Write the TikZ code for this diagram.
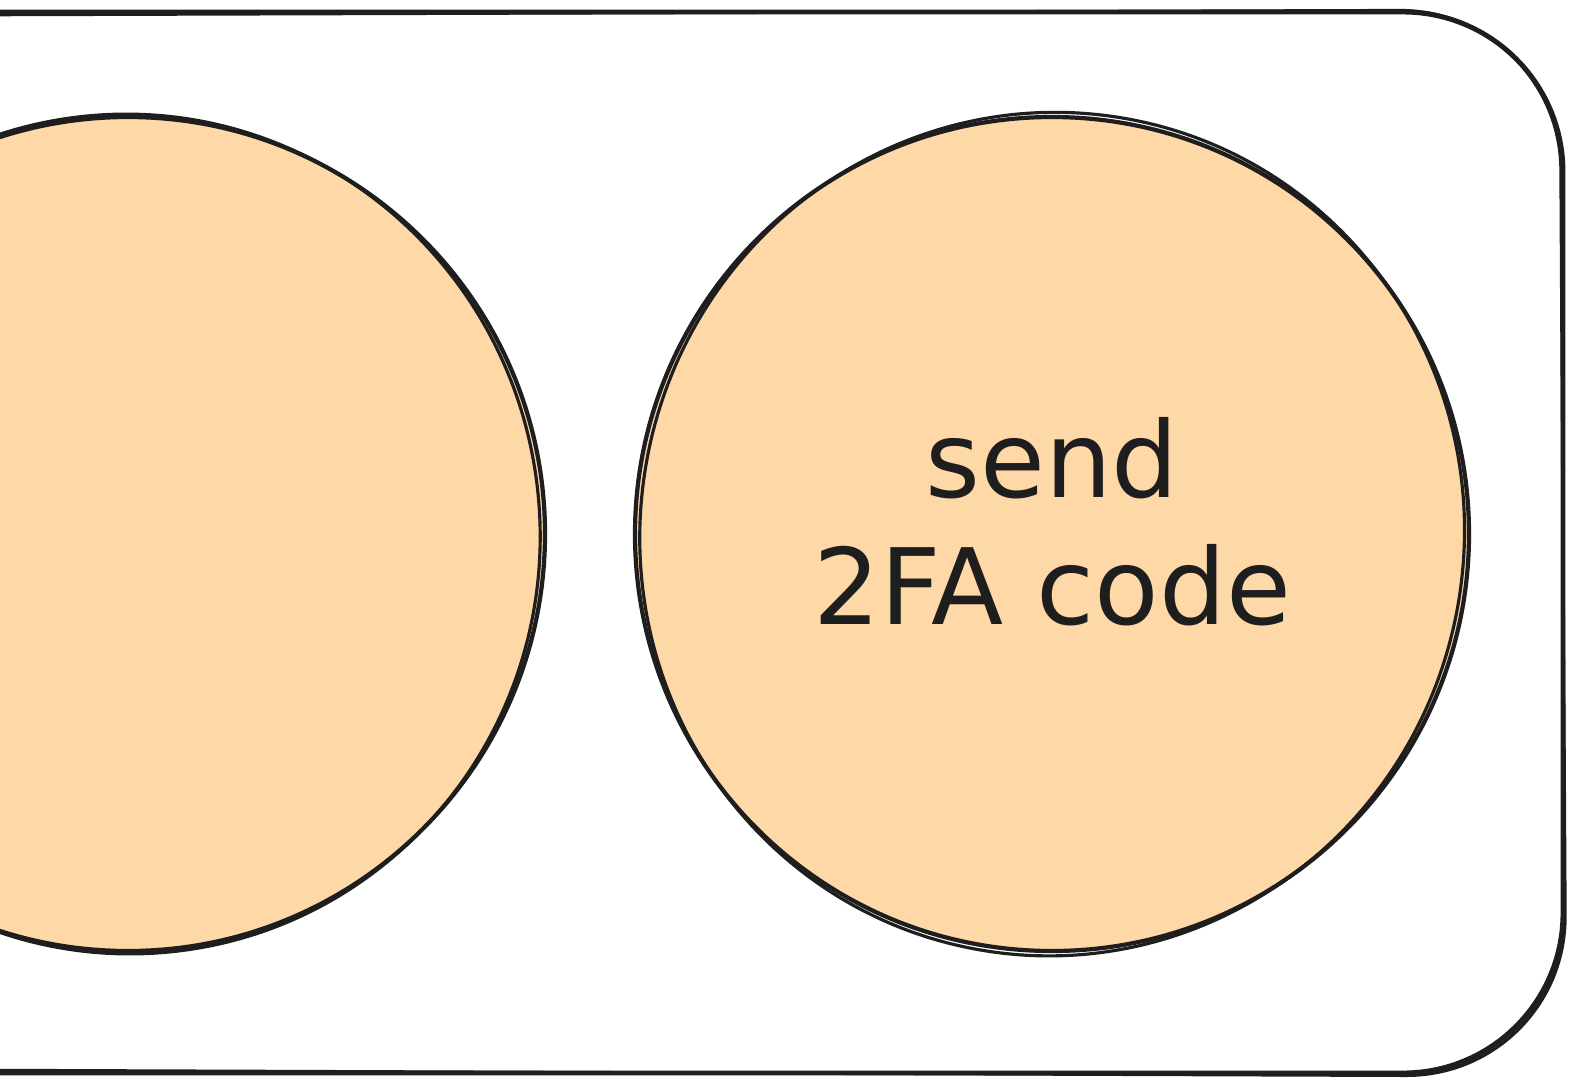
\documentclass[tikz,border=0pt]{standalone}
\usepackage{fontspec}
\setmainfont{DejaVu Sans}
\usepackage{tikz}
\usetikzlibrary{calc,positioning}
\definecolor{inkgray}{RGB}{30,30,30}
\definecolor{peach}{RGB}{255,216,168}
\tikzset{
  frame/.style={draw=inkgray,line width=1.4pt,rounded corners=1.6cm},
  bubble/.style={circle,draw=inkgray,fill=peach,line width=1.2pt,inner sep=0pt,
                 minimum size=8.34cm,align=center,text=inkgray,
                 font=\fontsize{30}{36}\selectfont},
  sketch/.style={draw=inkgray,line width=0.9pt}
}

\begin{document}
\begin{tikzpicture}
  \useasboundingbox (0,0) rectangle (15.7,-10.82);
  \clip (0,0) rectangle (15.7,-10.82);
  \draw[frame] (-1,-0.12) -- (15.63,-0.12) -- (15.63,-10.73) -- (-1,-10.73);
  \draw[sketch,rounded corners=1.6cm] (-1,-0.15) -- (15.6,-0.1) -- (15.66,-10.76) -- (-1,-10.7);
  \node[bubble] (login) at (1.28,-5.34) {};
  \node[bubble,text depth=7.5pt] (twofa) at (10.52,-5.34) {send\\2FA code};
  \draw[sketch,rotate around={8:(login.center)}] (login.center) ellipse [x radius=4.12cm,y radius=4.2cm];
  \draw[sketch,rotate around={-10:(twofa.center)}] (twofa.center) ellipse [x radius=4.12cm,y radius=4.22cm];
\end{tikzpicture}
\end{document}
